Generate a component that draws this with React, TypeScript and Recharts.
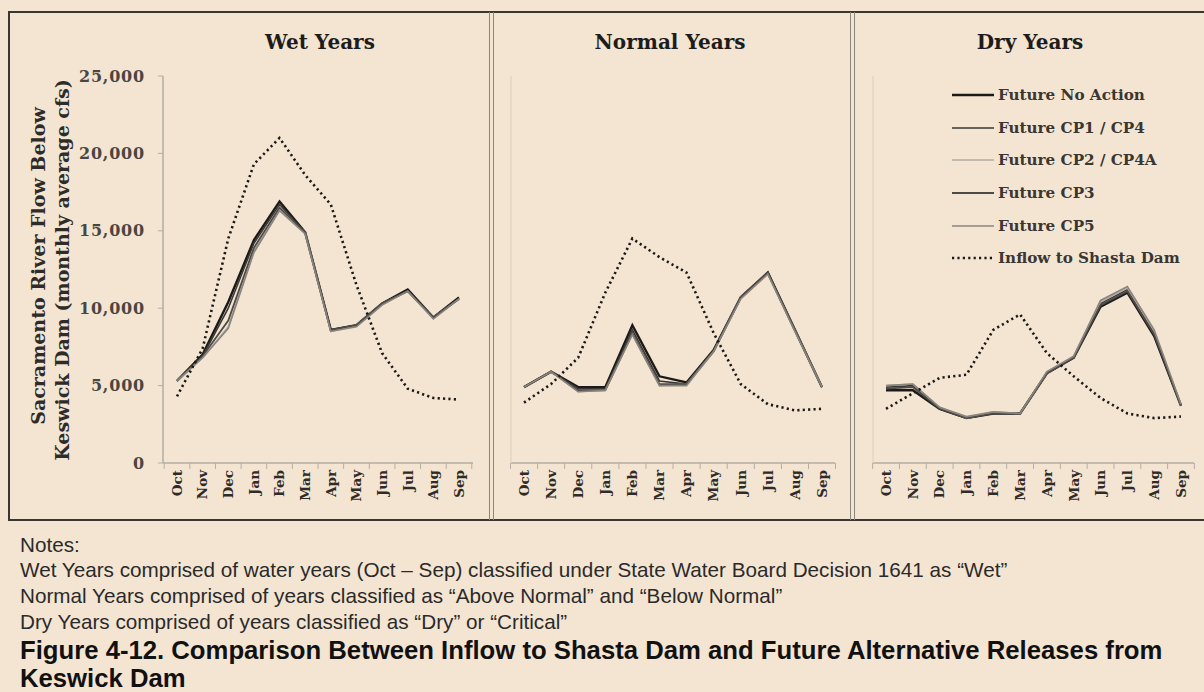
import React from 'react';
import {LineChart, Line, XAxis, YAxis, Legend} from 'recharts';

const months = ['Oct', 'Nov', 'Dec', 'Jan', 'Feb', 'Mar', 'Apr', 'May', 'Jun', 'Jul', 'Aug', 'Sep'];
const yTicks = [0, 5000, 10000, 15000, 20000, 25000];

// Wet years
const wetNoAction = [5300, 7000, 10400, 14400, 16900, 14900, 8600, 8900, 10300, 11200, 9400, 10700];
const wetCP1 = [5300, 6900, 10000, 14200, 16700, 14900, 8600, 8900, 10300, 11100, 9400, 10600];
const wetCP2 = [5300, 6800, 8800, 13700, 16400, 14900, 8500, 8900, 10300, 11100, 9400, 10600];
const wetCP3 = [5300, 6900, 9200, 13900, 16500, 14900, 8600, 8900, 10300, 11100, 9400, 10600];
const wetCP5 = [5300, 6800, 8700, 13600, 16300, 14800, 8500, 8800, 10200, 11100, 9300, 10600];
const wetInflow = [4300, 7400, 14500, 19300, 21000, 18600, 16700, 11500, 7100, 4800, 4200, 4100];

// Normal years
const normNoAction = [4900, 5900, 4900, 4900, 8900, 5600, 5200, 7300, 10700, 12300, 8600, 4900];
const normCP1 = [4900, 5900, 4800, 4800, 8600, 5300, 5100, 7300, 10700, 12300, 8600, 4900];
const normCP2 = [4900, 5900, 4600, 4700, 8300, 5000, 5100, 7200, 10700, 12200, 8600, 4900];
const normCP3 = [4900, 5900, 4700, 4700, 8400, 5100, 5100, 7200, 10700, 12300, 8600, 4900];
const normCP5 = [4900, 5900, 4600, 4700, 8300, 5000, 5000, 7200, 10600, 12200, 8500, 4900];
const normInflow = [3900, 5100, 6800, 11000, 14500, 13300, 12300, 8400, 5100, 3800, 3400, 3500];

// Dry years
const dryNoAction = [4700, 4700, 3500, 2900, 3200, 3200, 5800, 6800, 10100, 11000, 8200, 3700];
const dryCP1 = [4900, 5000, 3500, 2900, 3200, 3200, 5800, 6800, 10300, 11200, 8400, 3700];
const dryCP2 = [5000, 5100, 3600, 2900, 3300, 3200, 5800, 6900, 10400, 11300, 8500, 3700];
const dryCP3 = [4800, 4900, 3500, 2900, 3200, 3200, 5800, 6800, 10200, 11100, 8300, 3700];
const dryCP5 = [5000, 5100, 3600, 3000, 3300, 3200, 5900, 6900, 10500, 11400, 8600, 3800];
const dryInflow = [3500, 4500, 5500, 5700, 8600, 9600, 7100, 5600, 4200, 3200, 2900, 3000];

const series = [
    {key: 'noAction', name: 'Future No Action', color: '#1c1a18', width: 2.4, dash: undefined},
    {key: 'cp1', name: 'Future CP1 / CP4', color: '#3a3835', width: 1.6, dash: undefined},
    {key: 'cp2', name: 'Future CP2 / CP4A', color: '#b3aca3', width: 1.6, dash: undefined},
    {key: 'cp3', name: 'Future CP3', color: '#4e4b47', width: 1.8, dash: undefined},
    {key: 'cp5', name: 'Future CP5', color: '#8a857e', width: 1.6, dash: undefined},
    {key: 'inflow', name: 'Inflow to Shasta Dam', color: '#1c1a18', width: 2.6, dash: '2.2 3.2'},
];

const buildRows = (na: number[], c1: number[], c2: number[], c3: number[], c5: number[], inf: number[]) =>
    months.map((m, i) => ({
        month: m,
        noAction: na[i],
        cp1: c1[i],
        cp2: c2[i],
        cp3: c3[i],
        cp5: c5[i],
        inflow: inf[i],
    }));

const wetData = buildRows(wetNoAction, wetCP1, wetCP2, wetCP3, wetCP5, wetInflow);
const normalData = buildRows(normNoAction, normCP1, normCP2, normCP3, normCP5, normInflow);
const dryData = buildRows(dryNoAction, dryCP1, dryCP2, dryCP3, dryCP5, dryInflow);

const SERIF = '"DejaVu Serif", "Liberation Serif", serif';
const SANS = '"Liberation Sans", Arial, sans-serif';
const BG = '#f4e5d2';
const INK = '#2e2b28';
const AXIS = '#b5ada3';

// month label, plus small tick marks on the category boundaries like the original
const MonthTick = (props: any) => {
    const {x, y, payload, index, half} = props;
    const ay = y + 5;
    return (
        <g>
            <line x1={x - half} y1={y - 2} x2={x - half} y2={y + 4} stroke={AXIS}/>
            {index === months.length - 1 ?
                <line x1={x + half} y1={y - 2} x2={x + half} y2={y + 4} stroke={AXIS}/> : null}
            <text x={x} y={ay} transform={`rotate(-90 ${x} ${ay})`} textAnchor="end" dy="0.36em"
                  fontFamily={SERIF} fontWeight="bold" fontSize={13.5} fill={INK}>
                {payload.value}
            </text>
        </g>
    );
};

const YLabel = () => (
    <g fontFamily={SERIF} fontWeight="bold" fontSize={19} fill={INK}>
        <text x={38} y={266} transform="rotate(-90 38 266)" textAnchor="middle" dy="0.35em">
            Sacramento River Flow Below
        </text>
        <text x={62} y={270} transform="rotate(-90 62 270)" textAnchor="middle" dy="0.35em">
            Keswick Dam (monthly average cfs)
        </text>
    </g>
);

const LegendBox = () => (
    <div style={{fontFamily: SERIF, fontWeight: 'bold', fontSize: 15.2, color: '#3a3632'}}>
        {series.map((s) => (
            <div key={s.key} style={{display: 'flex', alignItems: 'center', height: 32.6}}>
                <svg width={44} height={10}>
                    <line x1={0} y1={5} x2={42} y2={5} stroke={s.color} strokeWidth={s.width}
                          strokeDasharray={s.dash}/>
                </svg>
                <span style={{marginLeft: 2, whiteSpace: 'nowrap'}}>{s.name}</span>
            </div>
        ))}
    </div>
);

const renderLines = () =>
    series.map((s) => (
        <Line key={s.key} type="linear" dataKey={s.key} name={s.name} stroke={s.color}
              strokeWidth={s.width} strokeDasharray={s.dash} dot={false} activeDot={false}
              isAnimationActive={false}/>
    ));

const Panel = (props: {
    data: any[]; left: number; width: number; title: string; titleX: number;
    margin: { top: number; right: number; bottom: number; left: number };
    showY?: boolean; showLegend?: boolean; pad: number; half: number;
}) => {
    const {data, left, width, title, titleX, margin, showY, showLegend, pad, half} = props;
    return (
        <div style={{position: 'absolute', left, top: 0, width, height: 520}}>
            <div style={{
                position: 'absolute', left: titleX - left - 150, width: 300, top: 30, textAlign: 'center',
                fontFamily: SERIF, fontWeight: 'bold', fontSize: 20, color: '#1e1c1a', zIndex: 2,
            }}>{title}</div>
            <LineChart width={width} height={520} data={data} margin={margin}>
                <XAxis dataKey="month" type="category" interval={0} tick={<MonthTick half={half}/>} tickSize={0}
                       tickLine={false} axisLine={{stroke: AXIS, strokeWidth: 1.5}} height={50}
                       padding={{left: pad, right: pad}}/>
                {showY ? (
                    <YAxis type="number" domain={[0, 25000]} ticks={yTicks} width={70}
                           tickFormatter={(v: number) => v.toLocaleString('en-US')}
                           tick={{fontFamily: SERIF, fontWeight: 'bold', fontSize: 16, fill: '#4a4642', letterSpacing: 0.8}}
                           tickSize={5} tickMargin={13} tickLine={{stroke: AXIS}}
                           axisLine={{stroke: AXIS, strokeWidth: 1.5}}/>
                ) : (
                    <YAxis type="number" domain={[0, 25000]} ticks={yTicks} width={1} tick={false}
                           tickLine={false} axisLine={{stroke: '#d9cdbd', strokeWidth: 1}}/>
                )}
                {showY ? <YLabel/> : null}
                {showLegend ? (
                    <Legend layout="vertical" align="center" verticalAlign="middle" content={<LegendBox/>}
                            wrapperStyle={{left: 100, top: 79, width: 260}}/>
                ) : null}
                {renderLines()}
            </LineChart>
        </div>
    );
};

const noteStyle: React.CSSProperties = {
    position: 'absolute', left: 20, fontFamily: SANS, fontSize: 20.7, lineHeight: '24px',
    color: '#2a2a2a', whiteSpace: 'nowrap',
};
const captionStyle: React.CSSProperties = {
    ...noteStyle, fontSize: 25.7, lineHeight: '28px', fontWeight: 'bold', color: '#111',
};

export default function App() {
    return (
        <div style={{position: 'absolute', left: 0, top: 0, width: 1204, height: 692, background: BG, overflow: 'hidden'}}>
            <Panel data={wetData} left={0} width={490} title="Wet Years" titleX={320}
                   margin={{top: 76, right: 17, bottom: 7, left: 93}} showY pad={14} half={12.8}/>
            <Panel data={normalData} left={490} width={362} title="Normal Years" titleX={670}
                   margin={{top: 76, right: 17, bottom: 7, left: 20}} pad={13} half={13.5}/>
            <Panel data={dryData} left={852} width={352} title="Dry Years" titleX={1030}
                   margin={{top: 76, right: 10, bottom: 7, left: 20}} showLegend pad={13} half={13.4}/>

            {/* frame */}
            <div style={{position: 'absolute', left: 8, top: 11, width: 1196, height: 2, background: '#3a3632'}}/>
            <div style={{position: 'absolute', left: 8, top: 11, width: 2, height: 510, background: '#3a3632'}}/>
            <div style={{position: 'absolute', left: 8, top: 519, width: 1196, height: 2, background: '#3a3632'}}/>
            <div style={{position: 'absolute', left: 489, top: 12, width: 3, height: 508, borderLeft: '1px solid #8c857c', borderRight: '1px solid #8c857c'}}/>
            <div style={{position: 'absolute', left: 850, top: 12, width: 3, height: 508, borderLeft: '1px solid #8c857c', borderRight: '1px solid #8c857c'}}/>

            <div style={{...noteStyle, top: 533}}>Notes:</div>
            <div style={{...noteStyle, top: 558}}>Wet Years comprised of water years (Oct – Sep) classified under State Water Board Decision 1641 as “Wet”</div>
            <div style={{...noteStyle, top: 584}}>Normal Years comprised of years classified as “Above Normal” and “Below Normal”</div>
            <div style={{...noteStyle, top: 610}}>Dry Years comprised of years classified as “Dry” or “Critical”</div>
            <div style={{...captionStyle, top: 636}}>
                Figure 4-12. Comparison Between Inflow to Shasta Dam and Future Alternative Releases from
            </div>
            <div style={{...captionStyle, top: 664}}>Keswick Dam</div>
        </div>
    );
}
